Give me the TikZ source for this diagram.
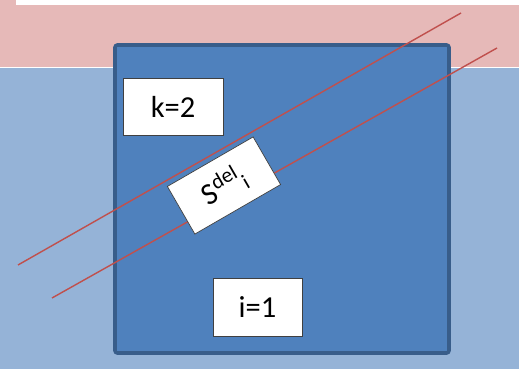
\documentclass[tikz,border=0pt]{standalone}
\usepackage{fontspec}
\setmainfont{Carlito}
\usetikzlibrary{positioning}
\definecolor{bandpink}{RGB}{230,185,184}
\definecolor{bandblue}{RGB}{149,179,215}
\definecolor{cellblue}{RGB}{79,129,189}
\definecolor{celledge}{RGB}{56,93,138}
\definecolor{cutred}{RGB}{192,80,77}
\tikzset{
  tag/.style={rectangle, draw=black!75, fill=white, line width=0.6pt,
    inner sep=0pt, font=\fontsize{26}{30}\selectfont},
  cell/.style={draw=celledge, fill=cellblue, line width=3pt, rounded corners=2pt},
  cut/.style={draw=cutred, line width=1.2pt}
}

\begin{document}
\begin{tikzpicture}[x=0.03cm, y=-0.03cm]
    \useasboundingbox (0,0) rectangle (519,369);
    % background bands
    \fill[bandblue] (0,0) rectangle (519,369);
    \fill[bandpink] (0,0) rectangle (519,67);
    \fill[white] (16,0) rectangle (519,5);
    \draw[white, line width=0.8pt] (0,67.5) -- (519,67.5);
    % cell
    \path[cell] (115,45) rectangle (449,353);
    \node[tag, minimum width=3cm, minimum height=1.71cm] (kbox) at (173,106.5) {k=2};
    \node[tag, minimum width=2.67cm, minimum height=1.74cm] (ibox) at (257.5,307) {i=1};
    % cut lines
    \coordinate (c1a) at (18,265);
    \coordinate (c1b) at (461,13);
    \coordinate (c2a) at (52,298);
    \coordinate (c2b) at (497,48);
    \draw[cut] (c1a) -- (c1b);
    \draw[cut] (c2a) -- (c2b);
    \node[tag, rotate=30, minimum width=2.97cm, minimum height=1.65cm] (sdel) at (224,185.5)
      {S\textsuperscript{del}\textsubscript{i}};
\end{tikzpicture}
\end{document}
